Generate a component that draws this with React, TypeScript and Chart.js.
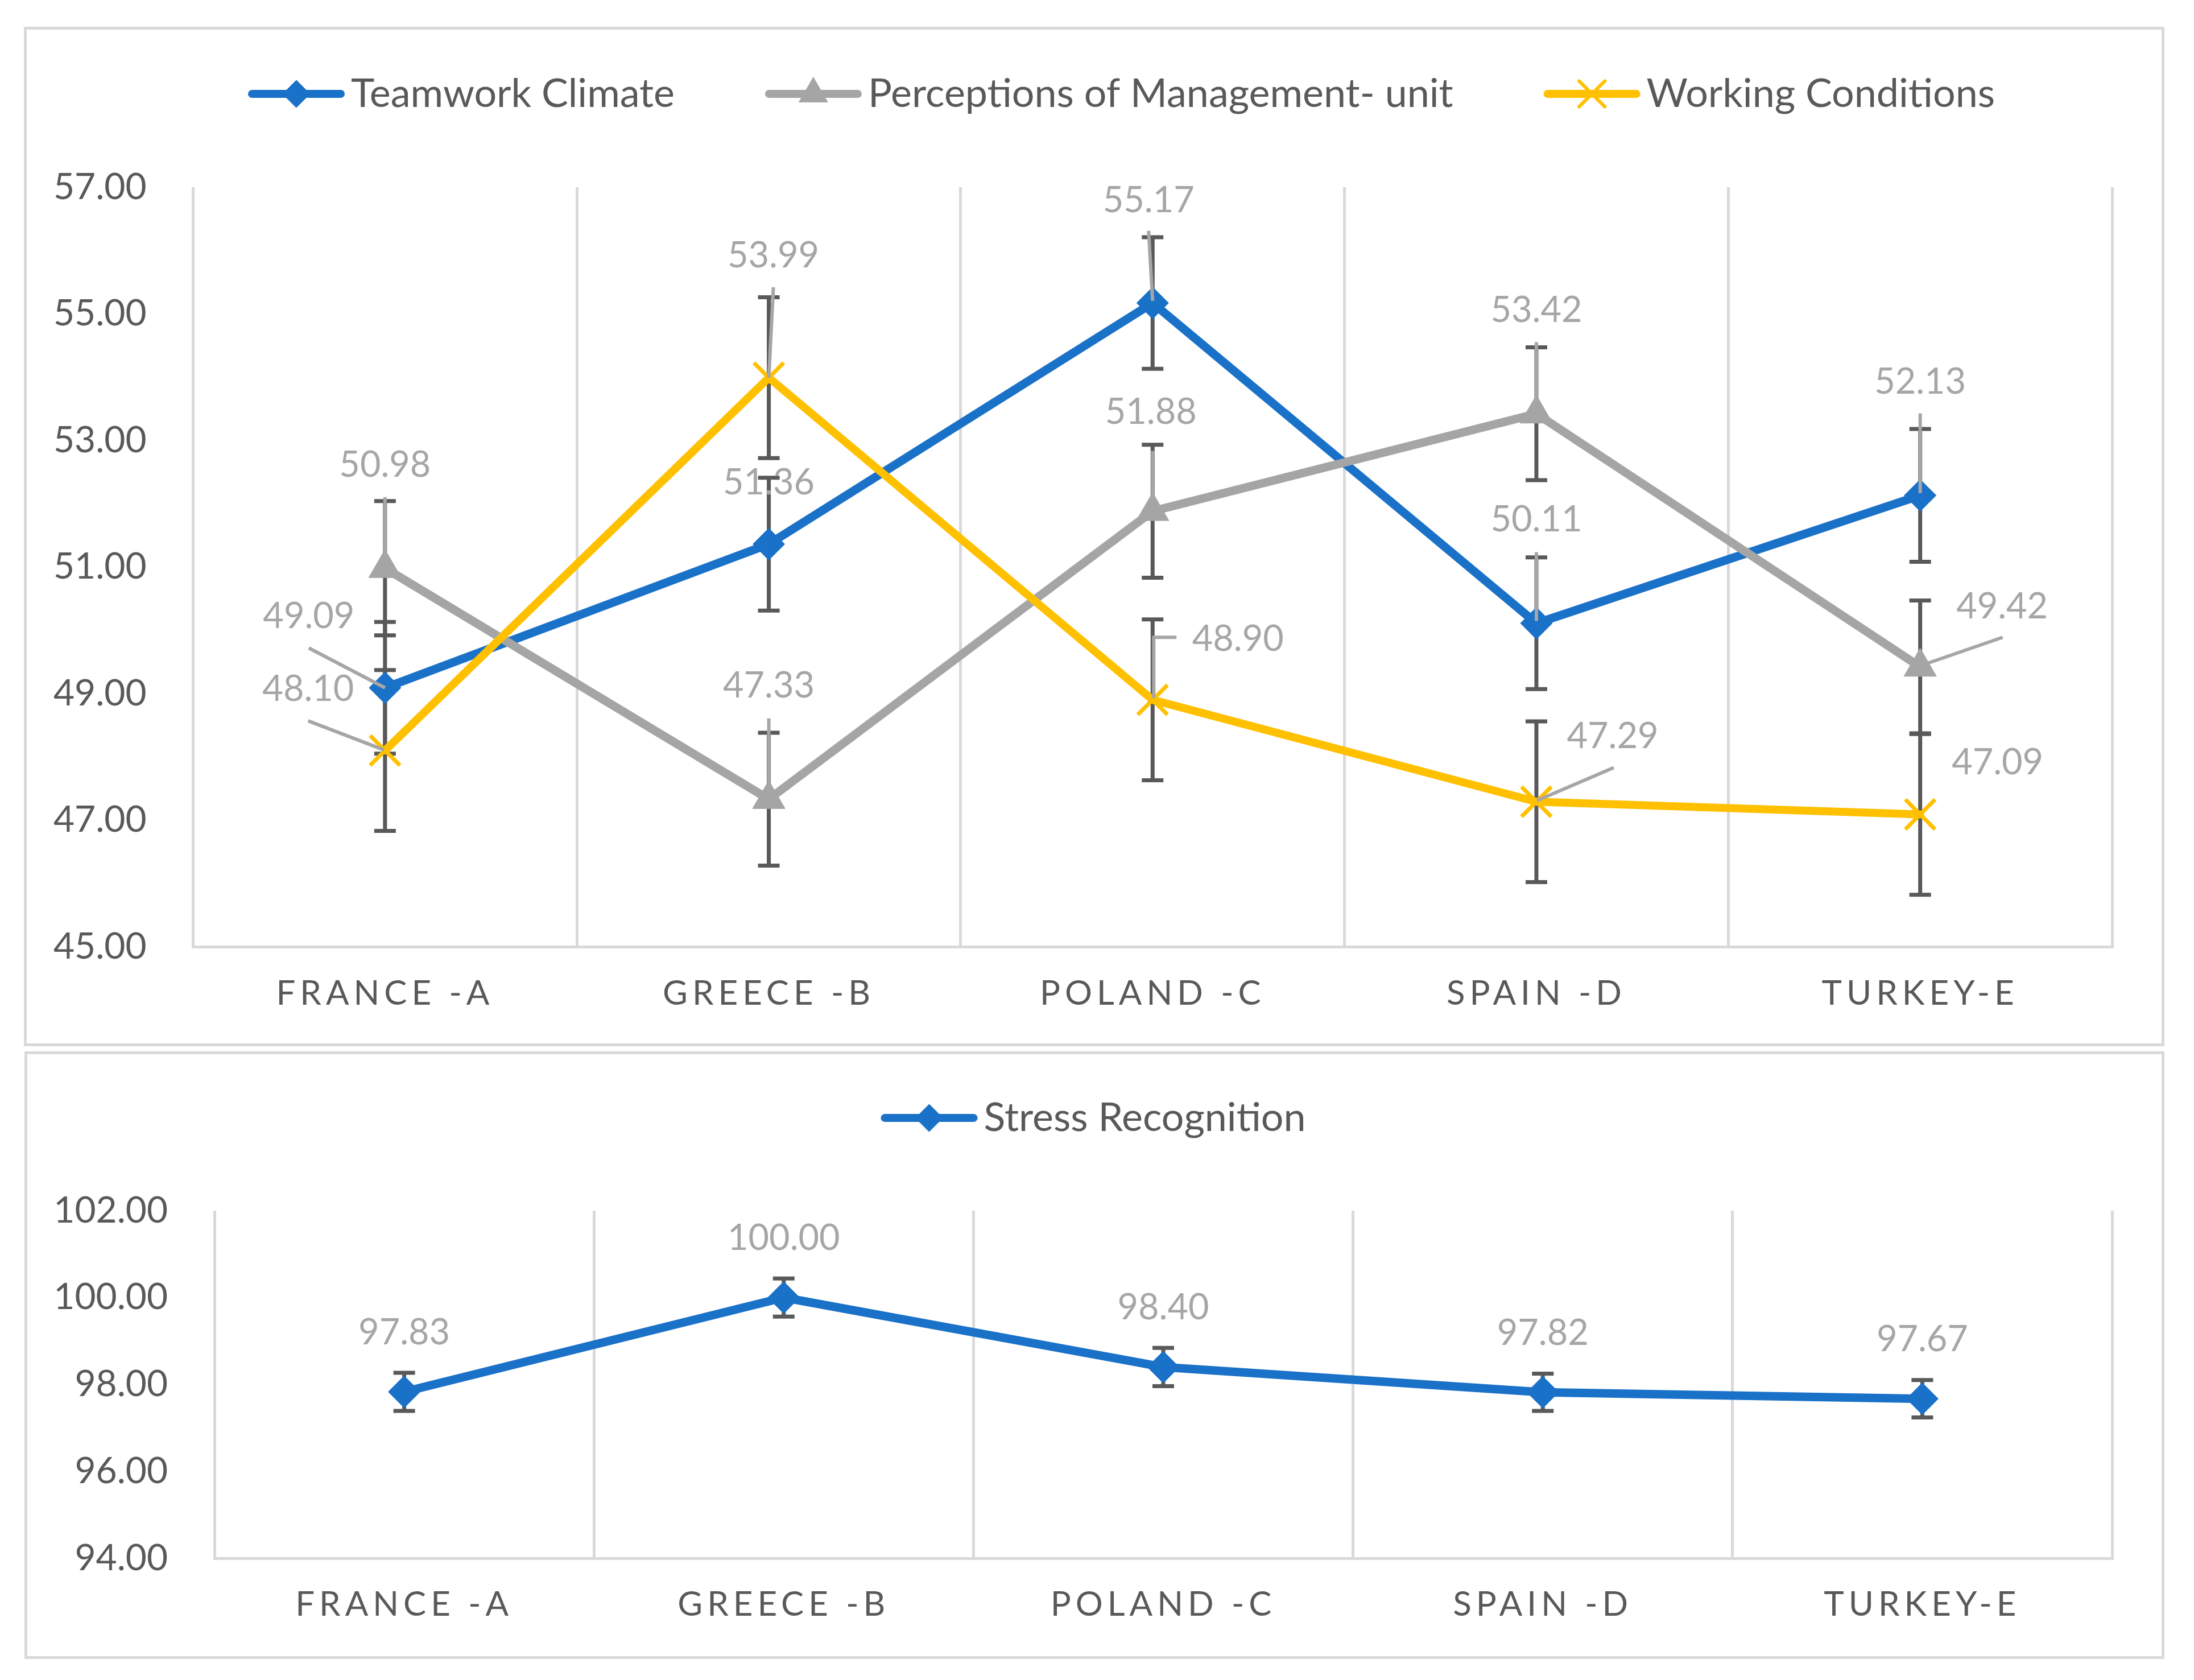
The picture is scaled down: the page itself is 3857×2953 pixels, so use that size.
import React, { useEffect, useRef } from "react";
import { Chart, registerables, CategoryScale } from "chart.js";
import { drawPoint } from "chart.js/helpers";

// Category axis whose labels are drawn with letter spacing (Excel style caps)
class SpacedCategoryScale extends CategoryScale {
  static id = "spacedCategory";
  static defaults = CategoryScale.defaults;
  drawLabels(chartArea: any) {
    const ctx = this.ctx as any;
    ctx.save();
    ctx.letterSpacing = "8px";
    super.drawLabels(chartArea);
    ctx.restore();
  }
}

Chart.register(...registerables, SpacedCategoryScale);

const FONT = "Lato";
const TEXT = "#595959";
const LABEL = "#A6A6A6";
const GRID = "#D9D9D9";
const BLUE = "#1A71C8";
const GREY = "#A5A5A5";
const GOLD = "#FFC000";

// ---- data ----
const countries = ["FRANCE -A", "GREECE -B", "POLAND -C", "SPAIN -D", "TURKEY-E"];

const teamworkClimate = [49.09, 51.36, 55.17, 50.11, 52.13];
const teamworkErr = [1.04, 1.05, 1.04, 1.04, 1.05];
const managementUnit = [50.98, 47.33, 51.88, 53.42, 49.42];
const managementErr = [1.06, 1.05, 1.05, 1.05, 1.05];
const workingConditions = [48.1, 53.99, 48.9, 47.29, 47.09];
const workingErr = [1.27, 1.27, 1.27, 1.27, 1.27];

const stressRecognition = [97.83, 100.0, 98.4, 97.82, 97.67];
const stressErr = [0.44, 0.44, 0.44, 0.43, 0.43];

const topTicks = [45, 47, 49, 51, 53, 55, 57];
const bottomTicks = [94, 96, 98, 100, 102];

// ---- label placement (px offsets from the point) ----
type LabelSpot = { dx: number; dy: number; leader?: number[][] };

const teamworkSpots: LabelSpot[] = [
  { dx: -134, dy: -125, leader: [[-134, -70], [0, 0]] },
  { dx: 0, dy: -108 },
  { dx: -7, dy: -180, leader: [[-7, -127], [0, -4]] },
  { dx: 0, dy: -182, leader: [[0, -125], [0, -4]] },
  { dx: 0, dy: -199, leader: [[0, -144], [0, -4]] },
];
const managementSpots: LabelSpot[] = [
  { dx: 0, dy: -181, leader: [[0, -125], [0, -20]] },
  { dx: 0, dy: -199, leader: [[0, -142], [0, -20]] },
  { dx: -3, dy: -174, leader: [[0, -106], [0, -20]] },
  { dx: 0, dy: -182, leader: [[0, -126], [0, -20]] },
  { dx: 144, dy: -106, leader: [[145, -52], [6, -4]] },
];
const workingSpots: LabelSpot[] = [
  { dx: -135, dy: -107, leader: [[-135, -52], [-2, -1]] },
  { dx: 8, dy: -214, leader: [[8, -159], [0, 0]] },
  { dx: 150, dy: -106, leader: [[42, -110], [2, -110], [2, -3]] },
  { dx: 134, dy: -115, leader: [[136, -60], [1, -2]] },
  { dx: 136, dy: -91 },
];
const stressSpots: LabelSpot[] = countries.map(() => ({ dx: 0, dy: -104 }));

function errorBars(errs: number[][]) {
  return {
    id: "errorBars",
    beforeDatasetsDraw(chart: any) {
      const { ctx } = chart;
      const y = chart.scales.y;
      ctx.save();
      ctx.strokeStyle = "#595959";
      ctx.lineWidth = 7;
      chart.data.datasets.forEach((ds: any, i: number) => {
        chart.getDatasetMeta(i).data.forEach((pt: any, j: number) => {
          const v = ds.data[j];
          const top = y.getPixelForValue(v + errs[i][j]);
          const bot = y.getPixelForValue(v - errs[i][j]);
          ctx.beginPath();
          ctx.moveTo(pt.x, top);
          ctx.lineTo(pt.x, bot);
          ctx.moveTo(pt.x - 19, top);
          ctx.lineTo(pt.x + 19, top);
          ctx.moveTo(pt.x - 19, bot);
          ctx.lineTo(pt.x + 19, bot);
          ctx.stroke();
        });
      });
      ctx.restore();
    },
  };
}

function valueLabels(spots: LabelSpot[][]) {
  return {
    id: "valueLabels",
    afterDatasetsDraw(chart: any) {
      const { ctx } = chart;
      ctx.save();
      ctx.strokeStyle = LABEL;
      ctx.lineWidth = 6;
      chart.data.datasets.forEach((ds: any, i: number) => {
        chart.getDatasetMeta(i).data.forEach((pt: any, j: number) => {
          const leader = spots[i][j].leader;
          if (!leader) return;
          ctx.beginPath();
          leader.forEach(([dx, dy], k) => {
            if (k === 0) ctx.moveTo(pt.x + dx, pt.y + dy);
            else ctx.lineTo(pt.x + dx, pt.y + dy);
          });
          ctx.stroke();
        });
      });
      ctx.font = `63px ${FONT}`;
      ctx.fillStyle = LABEL;
      ctx.textAlign = "center";
      ctx.textBaseline = "middle";
      chart.data.datasets.forEach((ds: any, i: number) => {
        chart.getDatasetMeta(i).data.forEach((pt: any, j: number) => {
          const s = spots[i][j];
          ctx.fillText(Number(ds.data[j]).toFixed(2), pt.x + s.dx, pt.y + s.dy);
        });
      });
      ctx.restore();
    },
  };
}

// line + marker swatch used as the legend point style
function swatch(color: string, pointStyle: string, radius: number, borderWidth: number) {
  const c = document.createElement("canvas");
  c.width = 172;
  c.height = 84;
  const g = c.getContext("2d")!;
  g.strokeStyle = color;
  g.fillStyle = color;
  g.lineCap = "round";
  g.lineWidth = 14;
  g.beginPath();
  g.moveTo(8, 42);
  g.lineTo(164, 42);
  g.stroke();
  g.lineWidth = borderWidth;
  drawPoint(g, { pointStyle, radius, borderWidth, rotation: 0 } as any, 86, 42);
  return c;
}

function legendOptions(swatches: HTMLCanvasElement[]) {
  return {
    position: "top",
    labels: {
      usePointStyle: true,
      pointStyleWidth: 122,
      padding: 183,
      color: TEXT,
      font: { family: FONT, size: 70 },
      generateLabels: (chart: any) =>
        chart.data.datasets.map((ds: any, i: number) => ({
          text: ds.label,
          pointStyle: swatches[i],
          fillStyle: ds.borderColor,
          strokeStyle: ds.borderColor,
          lineWidth: 0,
          hidden: false,
          datasetIndex: i,
          fontColor: TEXT,
        })),
    },
  };
}

type Frame = { yWidth: number; xHeight: number; topGap: number; rightGap: number; labelPad: number };

function scaleOptions(ticks: number[], f: Frame) {
  return {
    x: {
      type: "spacedCategory",
      offset: true,
      grid: { display: true, offset: true, color: GRID, lineWidth: 5, drawTicks: false },
      border: { display: true, color: GRID, width: 5 },
      ticks: { color: TEXT, font: { family: FONT, size: 60 }, padding: f.labelPad, maxRotation: 0, autoSkip: false },
      afterFit: (s: any) => {
        s.height = f.xHeight;
      },
    },
    y: {
      min: ticks[0],
      max: ticks[ticks.length - 1],
      grid: { display: false },
      border: { display: false },
      ticks: {
        color: TEXT,
        font: { family: FONT, size: 64 },
        padding: 74,
        callback: (v: any) => Number(v).toFixed(2),
      },
      afterBuildTicks: (s: any) => {
        s.ticks = ticks.map((value) => ({ value }));
      },
      afterFit: (s: any) => {
        s.width = f.yWidth;
      },
    },
    // empty axes used only to reserve space around the plot
    topGap: {
      type: "linear",
      axis: "x",
      position: "top",
      display: true,
      grid: { display: false },
      border: { display: false },
      ticks: { display: false },
      afterFit: (s: any) => {
        s.height = f.topGap;
      },
    },
    rightGap: {
      type: "linear",
      axis: "y",
      position: "right",
      display: true,
      grid: { display: false },
      border: { display: false },
      ticks: { display: false },
      afterFit: (s: any) => {
        s.width = f.rightGap;
      },
    },
  };
}

const lineLook = {
  xAxisID: "x",
  yAxisID: "y",
  tension: 0,
  borderCapStyle: "round",
  borderJoinStyle: "round",
  clip: false,
};

function TeamChart() {
  const canvasRef = useRef<HTMLCanvasElement | null>(null);
  const chartRef = useRef<Chart | null>(null);

  useEffect(() => {
    if (!canvasRef.current) return;
    if (chartRef.current) chartRef.current.destroy();

    const swatches = [
      swatch(BLUE, "rectRot", 24, 1),
      swatch(GREY, "triangle", 29, 1),
      swatch(GOLD, "crossRot", 32, 6),
    ];

    chartRef.current = new Chart(canvasRef.current, {
      type: "line",
      data: {
        labels: countries,
        datasets: [
          {
            label: "Teamwork Climate",
            data: teamworkClimate,
            order: 3,
            borderColor: BLUE,
            backgroundColor: BLUE,
            borderWidth: 15,
            pointStyle: "rectRot",
            pointRadius: 28,
            pointBorderWidth: 1,
            ...lineLook,
          },
          {
            label: "Perceptions of Management- unit",
            data: managementUnit,
            order: 2,
            borderColor: GREY,
            backgroundColor: GREY,
            borderWidth: 15,
            pointStyle: "triangle",
            pointRadius: 33,
            pointBorderWidth: 1,
            ...lineLook,
          },
          {
            label: "Working Conditions",
            data: workingConditions,
            order: 1,
            borderColor: GOLD,
            backgroundColor: GOLD,
            borderWidth: 14,
            pointStyle: "crossRot",
            pointRadius: 37,
            pointBorderWidth: 7,
            ...lineLook,
          },
        ],
      },
      options: {
        animation: false,
        responsive: true,
        maintainAspectRatio: false,
        layout: { padding: { left: 40, right: -80, top: -105, bottom: 0 } },
        plugins: {
          legend: legendOptions(swatches) as any,
          tooltip: { enabled: false },
        },
        scales: scaleOptions(topTicks, { yWidth: 252.5, xHeight: 170, topGap: 119, rightGap: 167, labelPad: 47 }) as any,
      },
      plugins: [
        errorBars([teamworkErr, managementErr, workingErr]),
        valueLabels([teamworkSpots, managementSpots, workingSpots]),
      ],
    } as any);

    return () => {
      if (chartRef.current) {
        chartRef.current.destroy();
        chartRef.current = null;
      }
    };
  }, []);

  return <canvas ref={canvasRef} />;
}

function StressChart() {
  const canvasRef = useRef<HTMLCanvasElement | null>(null);
  const chartRef = useRef<Chart | null>(null);

  useEffect(() => {
    if (!canvasRef.current) return;
    if (chartRef.current) chartRef.current.destroy();

    chartRef.current = new Chart(canvasRef.current, {
      type: "line",
      data: {
        labels: countries,
        datasets: [
          {
            label: "Stress Recognition",
            data: stressRecognition,
            borderColor: BLUE,
            backgroundColor: BLUE,
            borderWidth: 15,
            pointStyle: "rectRot",
            pointRadius: 28,
            pointBorderWidth: 1,
            ...lineLook,
          },
        ],
      },
      options: {
        animation: false,
        responsive: true,
        maintainAspectRatio: false,
        layout: { padding: { left: 40, right: 20, top: -106, bottom: 0 } },
        plugins: {
          legend: legendOptions([swatch(BLUE, "rectRot", 24, 1)]) as any,
          tooltip: { enabled: false },
        },
        scales: scaleOptions(bottomTicks, { yWidth: 289, xHeight: 172, topGap: 118, rightGap: 67, labelPad: 46 }) as any,
      },
      plugins: [errorBars([stressErr]), valueLabels([stressSpots])],
    } as any);

    return () => {
      if (chartRef.current) {
        chartRef.current.destroy();
        chartRef.current = null;
      }
    };
  }, []);

  return <canvas ref={canvasRef} />;
}

const boxStyle = (left: number, top: number, width: number, height: number): React.CSSProperties => ({
  position: "absolute",
  left,
  top,
  width,
  height,
  boxSizing: "border-box",
  border: `5px solid ${GRID}`,
  background: "#fff",
});

export default function App() {
  return (
    <div style={{ position: "absolute", left: 0, top: 0, width: 3857, height: 2953, background: "#fff" }}>
      <div style={boxStyle(42, 47, 3763, 1792)}>
        <div style={{ position: "relative", width: 3753, height: 1782 }}>
          <TeamChart />
        </div>
      </div>
      <div style={boxStyle(43, 1848, 3762, 1068)}>
        <div style={{ position: "relative", width: 3752, height: 1058 }}>
          <StressChart />
        </div>
      </div>
    </div>
  );
}
